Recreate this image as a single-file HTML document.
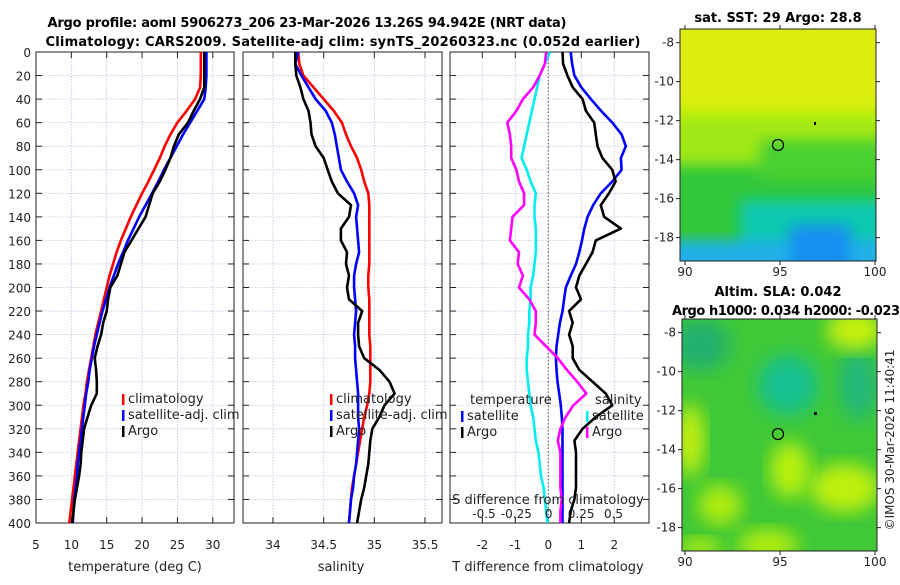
<!DOCTYPE html>
<html><head><meta charset="utf-8"><style>
body{margin:0;background:#fff;}
svg text{font-family:"DejaVu Sans","Liberation Sans",sans-serif;}
</style></head><body>
<svg id="chart" width="900" height="580" viewBox="0 0 900 580" xmlns="http://www.w3.org/2000/svg">
<defs>
<filter id="blur1" x="-20%" y="-20%" width="140%" height="140%"><feGaussianBlur stdDeviation="7"/></filter>
<filter id="blur2" x="-20%" y="-20%" width="140%" height="140%"><feGaussianBlur stdDeviation="9"/></filter>
<clipPath id="clipm1"><rect x="680" y="29" width="196" height="232"/></clipPath>
<clipPath id="clipm2"><rect x="682" y="319" width="195" height="232"/></clipPath>
</defs>
<text x="307" y="27" font-size="13" font-weight="bold" text-anchor="middle" textLength="519">Argo profile: aoml 5906273_206 23-Mar-2026 13.26S 94.942E (NRT data)</text>
<text x="343" y="46" font-size="13" font-weight="bold" text-anchor="middle" textLength="595">Climatology: CARS2009. Satellite-adj clim: synTS_20260323.nc (0.052d earlier)</text>

<g id="panels"></g>

<!-- SST map -->
<text x="778" y="22" font-size="13" font-weight="bold" text-anchor="middle">sat. SST: 29 Argo: 28.8</text>
<g clip-path="url(#clipm1)">
<rect x="680" y="29" width="196" height="232" fill="#b8ee10"/>
<rect x="660" y="10" width="240" height="100" fill="#dcee10" filter="url(#blur1)"/>
<rect x="660" y="120" width="240" height="60" fill="#a0e818" filter="url(#blur1)"/>
<rect x="660" y="165" width="240" height="110" fill="#30c83a" filter="url(#blur1)"/>
<rect x="760" y="140" width="130" height="40" fill="#48d030" filter="url(#blur1)"/>
<rect x="740" y="200" width="160" height="80" fill="#10c8b0" filter="url(#blur1)"/>
<rect x="660" y="240" width="240" height="40" fill="#20b0e8" filter="url(#blur1)"/>
<rect x="790" y="225" width="60" height="50" fill="#1890f0" filter="url(#blur1)"/>
</g>
<rect x="680" y="29" width="196" height="232" fill="none" stroke="#222" stroke-width="1"/>
<circle cx="778" cy="145" r="5.5" fill="none" stroke="#000" stroke-width="1.2"/>
<rect x="814" y="122" width="2" height="3" fill="#000"/>
<g id="m1ticks"></g>

<!-- SLA map -->
<text x="778" y="296" font-size="13" font-weight="bold" text-anchor="middle">Altim. SLA: 0.042</text>
<text x="786" y="315" font-size="13" font-weight="bold" text-anchor="middle" textLength="228">Argo h1000: 0.034 h2000: -0.023</text>
<g clip-path="url(#clipm2)">
<rect x="682" y="319" width="195" height="232" fill="#40c838"/>
<ellipse cx="700" cy="345" rx="30" ry="25" fill="#20b070" filter="url(#blur2)"/>
<ellipse cx="788" cy="385" rx="30" ry="30" fill="#18c090" filter="url(#blur2)"/>
<ellipse cx="858" cy="385" rx="20" ry="35" fill="#20b878" filter="url(#blur2)"/>
<ellipse cx="855" cy="330" rx="28" ry="20" fill="#c8f010" filter="url(#blur2)"/>
<ellipse cx="690" cy="440" rx="14" ry="36" fill="#c8f010" filter="url(#blur2)"/>
<ellipse cx="790" cy="470" rx="20" ry="28" fill="#b8f010" filter="url(#blur2)"/>
<ellipse cx="845" cy="488" rx="35" ry="24" fill="#c0f010" filter="url(#blur2)"/>
<ellipse cx="720" cy="505" rx="22" ry="20" fill="#b0ec10" filter="url(#blur2)"/>
<ellipse cx="768" cy="545" rx="30" ry="16" fill="#b0ec10" filter="url(#blur2)"/>
<ellipse cx="700" cy="548" rx="22" ry="10" fill="#b0ec10" filter="url(#blur2)"/>
</g>
<rect x="682" y="319" width="195" height="232" fill="none" stroke="#222" stroke-width="1"/>
<circle cx="778" cy="434" r="5.5" fill="none" stroke="#000" stroke-width="1.2"/>
<rect x="814" y="412" width="3" height="3" fill="#000"/>
<g id="m2ticks"></g>
<text transform="translate(894,440) rotate(-90)" font-size="12" text-anchor="middle" fill="#222">©IMOS 30-Mar-2026 11:40:41</text>
</svg>
<script>
// ===== data =====
const depths = [0,10,20,30,40,50,60,70,80,90,100,110,120,130,140,150,160,170,180,190,200,210,220,230,240,250,260,270,280,290,300,310,320,330,340,350,360,370,380,390,400];
const tempClim = [28.3,28.3,28.3,28.2,27.5,26.3,25,24,23.2,22.5,21.7,20.9,20,19.2,18.4,17.7,17,16.4,15.9,15.4,15,14.6,14.2,13.8,13.4,13.1,12.8,12.5,12.2,12,11.7,11.5,11.3,11.1,10.9,10.7,10.5,10.3,10.1,9.9,9.7];
const tempSat = [29.1,29.1,29.1,29.0,28.8,27.8,26.8,25.8,24.9,24,23.1,22.3,21.4,20.5,19.6,18.8,18,17.3,16.6,16,15.4,14.9,14.4,14,13.6,13.2,12.9,12.6,12.4,12.1,11.9,11.7,11.5,11.3,11.1,10.9,10.8,10.6,10.4,10.3,10.2];
const tempArgo = [28.8,28.8,28.8,28.8,28.2,27.3,26.5,25.2,24.5,24,23.3,22.5,21.5,21,20.5,19.5,18.5,17.5,17,16.5,15.5,15.2,15,14.5,14.2,13.7,13.3,13.5,13.6,13.6,12.8,12.3,11.8,11.6,11.4,11.3,11.1,10.8,10.5,10.3,10.1];
const salClim = [34.25,34.26,34.3,34.4,34.5,34.6,34.68,34.72,34.77,34.83,34.87,34.9,34.94,34.95,34.95,34.95,34.95,34.95,34.95,34.94,34.94,34.95,34.95,34.95,34.95,34.96,34.96,34.96,34.96,34.95,34.93,34.9,34.88,34.86,34.84,34.82,34.8,34.78,34.77,34.76,34.75];
const salSat = [34.25,34.22,34.28,34.35,34.42,34.52,34.58,34.61,34.63,34.65,34.67,34.73,34.8,34.84,34.82,34.83,34.84,34.85,34.82,34.8,34.8,34.81,34.82,34.81,34.8,34.81,34.81,34.82,34.83,34.84,34.84,34.84,34.85,34.84,34.83,34.82,34.8,34.79,34.77,34.76,34.75];
const salArgo = [34.22,34.22,34.23,34.27,34.3,34.35,34.37,34.38,34.42,34.5,34.54,34.58,34.64,34.77,34.75,34.67,34.67,34.73,34.72,34.75,34.73,34.75,34.88,34.84,34.84,34.85,34.9,35.05,35.15,35.2,35.1,35.05,34.98,34.96,34.95,34.94,34.92,34.9,34.87,34.85,34.83];
const tDiffSat = [0.68,0.72,0.79,1.0,1.29,1.6,1.94,2.22,2.35,2.2,2.22,1.94,1.59,1.36,1.19,1.09,1.02,0.94,0.84,0.68,0.53,0.48,0.43,0.35,0.3,0.25,0.23,0.25,0.28,0.33,0.38,0.41,0.43,0.43,0.43,0.43,0.43,0.43,0.43,0.43,0.43];
const tDiffArgo = [0.43,0.45,0.58,0.74,1.04,1.14,1.39,1.44,1.49,1.64,1.94,2.04,1.84,1.59,1.69,2.2,1.44,1.34,1.14,0.94,0.84,0.99,0.63,0.74,0.63,0.74,0.74,0.94,1.34,1.74,1.94,1.44,1.04,0.79,0.84,0.84,0.84,0.84,0.79,0.68,0.63];
const sDiffSat = [0.01,-0.03,-0.07,-0.09,-0.11,-0.13,-0.15,-0.17,-0.19,-0.21,-0.17,-0.14,-0.1,-0.11,-0.11,-0.1,-0.1,-0.1,-0.11,-0.12,-0.14,-0.14,-0.15,-0.15,-0.16,-0.16,-0.17,-0.17,-0.16,-0.15,-0.14,-0.12,-0.11,-0.1,-0.08,-0.07,-0.06,-0.04,-0.03,-0.02,-0.01];
const sDiffArgo = [-0.02,-0.03,-0.07,-0.12,-0.2,-0.25,-0.32,-0.3,-0.29,-0.29,-0.25,-0.23,-0.19,-0.19,-0.28,-0.29,-0.3,-0.23,-0.24,-0.2,-0.23,-0.15,-0.1,-0.1,-0.11,-0.02,0.07,0.14,0.22,0.29,0.19,0.13,0.09,0.07,0.09,0.09,0.09,0.09,0.1,0.09,0.09];
const depthTicks = [0,20,40,60,80,100,120,140,160,180,200,220,240,260,280,300,320,340,360,380,400];
const tempTicks = [5,10,15,20,25,30];
const salTicks = [34,34.5,35,35.5];
const tDiffTicks = [-2,-1,0,1,2];
const sDiffTicks = [-0.5,-0.25,0,0.25,0.5];
const sDiffTickLabels = ["-0.5","-0.25","0","0.25","0.5"];
const latTicks = [-8,-10,-12,-14,-16,-18];
const lonTicks = [90,95,100];

const NS = "http://www.w3.org/2000/svg";
const root = document.getElementById('panels');
function mk(tag, attrs, parent){const e=document.createElementNS(NS,tag);for(const k in attrs)e.setAttribute(k,attrs[k]);(parent||root).appendChild(e);return e;}
function txt(x,y,s,size,anchor,parent){const t=mk('text',{x:x,y:y,'font-size':size,'text-anchor':anchor||'middle',fill:'#222'},parent);t.textContent=s;return t;}

const top0=52, bot0=523;
const yD = d => top0 + (d/400)*(bot0-top0);
function lin(d0,d1,r0,r1){return v=>r0+(v-d0)/(d1-d0)*(r1-r0);}

function panel(L,R,xs,ticks,labels,name){
  const g=mk('g',{});
  
  
  depthTicks.forEach(d=>{mk('line',{x1:L,x2:R,y1:yD(d),y2:yD(d),stroke:'#b8c4e0','stroke-width':0.8,'stroke-dasharray':'1.5,1.5'},g);
    mk('line',{x1:L,x2:L+6,y1:yD(d),y2:yD(d),stroke:'#222'},g);mk('line',{x1:R-6,x2:R,y1:yD(d),y2:yD(d),stroke:'#222'},g);});
  ticks.forEach((t,i)=>{const x=xs(t);
    mk('line',{x1:x,x2:x,y1:top0,y2:bot0,stroke:'#b8c4e0','stroke-width':0.8,'stroke-dasharray':'1.5,1.5'},g);
    mk('line',{x1:x,x2:x,y1:bot0,y2:bot0-6,stroke:'#222'},g);mk('line',{x1:x,x2:x,y1:top0,y2:top0+6,stroke:'#222'},g);
    const lab=txt(x,549,labels?labels[i]:String(t),12,'middle',g);
    
    
  });
  mk('rect',{x:L,y:top0,width:R-L,height:bot0-top0,fill:'none',stroke:'#222','stroke-width':1},g);
  return g;
}
function series(vals,xs,color,name,g){
  const pts=vals.map((v,i)=>xs(v).toFixed(1)+','+yD(depths[i]).toFixed(1)).join(' ');
  const p=mk('polyline',{points:pts,fill:'none',stroke:color,'stroke-width':2.6,'stroke-linejoin':'round'},g);
  
  
}
function legend(x,y,items,g){
  items.forEach((it,i)=>{mk('rect',{x:x,y:y+i*16-9,width:2.5,height:11,fill:it[1]},g);const t=txt(x+6,y+i*16,it[0],13,'start',g);
    
    });
}

depthTicks.forEach(d=>{const t=txt(31,yD(d)+5,String(d),12,'end');
  
  });

const xT=lin(5,33,36,234);
const g1=panel(36,234,xT,tempTicks,null,'temperature-panel');
series(tempClim,xT,'#ff0000','temp-climatology-line',g1);
series(tempSat,xT,'#0000ff','temp-satellite-line',g1);
series(tempArgo,xT,'#000000','temp-argo-line',g1);
legend(122,403,[['climatology','#f00'],['satellite-adj. clim','#00f'],['Argo','#000']],g1);
txt(135,571,'temperature (deg C)',13,'middle',g1);

const xS=lin(34,35.5,273,425);
const g2=panel(243,442,xS,salTicks,null,'salinity-panel');
series(salClim,xS,'#ff0000','sal-climatology-line',g2);
series(salSat,xS,'#0000ff','sal-satellite-line',g2);
series(salArgo,xS,'#000000','sal-argo-line',g2);
legend(330,403,[['climatology','#f00'],['satellite-adj. clim','#00f'],['Argo','#000']],g2);
txt(341,571,'salinity',13,'middle',g2);

const xTD=lin(-2,2,482.3,614.3);
const xSD=lin(-0.5,0.5,484,613.5);
const g3=panel(450,649,xTD,tDiffTicks,null,'difference-panel');
mk('line',{x1:xTD(0),x2:xTD(0),y1:top0,y2:bot0,stroke:'#555','stroke-width':1,'stroke-dasharray':'1.5,2'},g3);
series(sDiffSat,xSD,'#00eeee','sdiff-satellite-line',g3);
series(tDiffSat,xTD,'#0000ff','tdiff-satellite-line',g3);
series(sDiffArgo,xSD,'#ff00ff','sdiff-argo-line',g3);
series(tDiffArgo,xTD,'#000000','tdiff-argo-line',g3);
txt(470,404,'temperature',13,'start',g3);
legend(461,420,[['satellite','#00f'],['Argo','#000']],g3);
txt(595,404,'salinity',13,'start',g3);
legend(586,420,[['satellite','#0ee'],['Argo','#f0f']],g3);
txt(548,504,'S difference from climatology',13,'middle',g3);
sDiffTicks.forEach((t,i)=>{const l=txt(xSD(t),518,sDiffTickLabels[i],12,'middle',g3);
  
  });
txt(548,571,'T difference from climatology',13,'middle',g3);

function mapTicks(gid,L,R,T,B,latTop,latBot){
  const g=document.getElementById(gid);
  const yl=lin(-8,-18,T+ (-8-latTop)/(latBot-latTop)*(B-T),T+(-18-latTop)/(latBot-latTop)*(B-T));
  const xl=lin(90,100,685,875);
  latTicks.forEach(v=>{const y=yl(v);mk('line',{x1:L,x2:L-4,y1:y,y2:y,stroke:'#222'},g);mk('line',{x1:R,x2:R+4,y1:y,y2:y,stroke:'#222'},g);
    const t=txt(L-6,y+4,String(v),12,'end',g);
    
    });
  lonTicks.forEach(v=>{const x=xl(v);mk('line',{x1:x,x2:x,y1:B,y2:B+4,stroke:'#222'},g);mk('line',{x1:x,x2:x,y1:T,y2:T-4,stroke:'#222'},g);
    const t=txt(x,B+15,String(v),12,'middle',g);
    
    });
}
mapTicks('m1ticks',680,876,29,261,-7.3,-19.2);
mapTicks('m2ticks',682,877,319,551,-7.3,-19.2);
</script>
</body></html>
